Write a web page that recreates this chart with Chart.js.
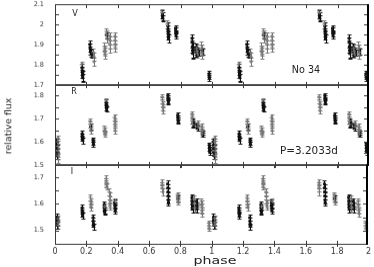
<!DOCTYPE html>
<html><head><meta charset="utf-8">
<script src="https://cdn.jsdelivr.net/npm/chart.js@4.4.0/dist/chart.umd.min.js"></script>
<style>
html,body{margin:0;padding:0;background:#fff;width:374px;height:267px;overflow:hidden;}
#wrap{position:relative;width:374px;height:267px;overflow:hidden;}
canvas{position:absolute;left:0;}
.t{position:absolute;font-family:"DejaVu Sans",sans-serif;color:#222;white-space:nowrap;line-height:1;transform:translate(-50%,-50%);}
</style></head><body>
<div id="wrap">
<canvas id="cV" width="374" height="100"></canvas>
<canvas id="cR" width="374" height="100"></canvas>
<canvas id="cI" width="374" height="120"></canvas>
<div class="t" style="left:75px;top:14px;font-size:8px">V</div>
<div class="t" style="left:74px;top:92px;font-size:8px">R</div>
<div class="t" style="left:72px;top:172px;font-size:8px">I</div>
<div class="t" style="left:306px;top:70px;font-size:9.6px">No 34</div>
<div class="t" style="left:309px;top:150px;font-size:10.4px">P=3.2033d</div>
<div class="t" style="left:215px;top:261px;font-size:10px;transform:translate(-50%,-50%) scaleX(1.42)">phase</div>
<div class="t" style="left:8px;top:126px;font-size:9.5px;transform:translate(-50%,-50%) rotate(-90deg)">relative flux</div>
</div>
<script>
// phase tick labels (x axis), every 0.2 from 0 to 2
const phaseTicks = ["0","0.2","0.4","0.6","0.8","1","1.2","1.4","1.6","1.8","2"];
// Panel ranges [min, max]
const rangeV = [1.7, 2.1];
const rangeR = [1.5, 1.85];
const rangeI = [1.45, 1.75];
// Data: [phase (0-1), relative flux, error]; plotted over two cycles (phase and phase+1)
const V_dark = [
 [0.172,1.785,0.02],[0.174,1.770,0.022],[0.175,1.755,0.02],[0.176,1.745,0.025],[0.177,1.735,0.02],
 [0.222,1.900,0.018],[0.224,1.885,0.02],[0.226,1.870,0.02],[0.229,1.858,0.018],[0.234,1.850,0.015],
 [0.330,1.945,0.015],
 [0.684,2.050,0.02],[0.685,2.040,0.02],[0.686,2.030,0.015],
 [0.719,1.990,0.02],[0.720,1.975,0.02],[0.721,1.960,0.02],[0.722,1.945,0.02],[0.723,1.930,0.02],
 [0.768,1.980,0.015],[0.769,1.968,0.015],[0.770,1.955,0.015],[0.771,1.945,0.015],
 [0.873,1.930,0.02],[0.874,1.910,0.025],[0.875,1.890,0.03],[0.876,1.870,0.04],[0.877,1.855,0.02],
 [0.895,1.885,0.02],[0.897,1.870,0.02],[0.899,1.860,0.02],
 [0.913,1.870,0.015],[0.915,1.858,0.015],
 [0.940,1.865,0.015],
 [0.981,1.755,0.015],[0.982,1.745,0.015],[0.983,1.735,0.015]
];
const V_grey = [
 [0.170,1.800,0.015],
 [0.244,1.860,0.02],[0.246,1.840,0.02],[0.248,1.815,0.02],
 [0.315,1.890,0.02],[0.316,1.875,0.02],[0.317,1.862,0.02],[0.318,1.850,0.02],
 [0.328,1.965,0.015],[0.329,1.950,0.02],[0.331,1.930,0.02],
 [0.349,1.940,0.02],[0.350,1.920,0.02],[0.351,1.900,0.02],[0.352,1.878,0.02],
 [0.381,1.940,0.02],[0.382,1.920,0.02],[0.383,1.900,0.02],[0.384,1.885,0.02],
 [0.682,2.058,0.015],
 [0.716,2.000,0.02],
 [0.903,1.880,0.02],[0.905,1.866,0.02],[0.907,1.855,0.02],
 [0.933,1.895,0.02],[0.935,1.880,0.02],[0.937,1.862,0.02],[0.939,1.850,0.02]
];
const R_dark = [
 [0.008,1.600,0.015],[0.009,1.585,0.015],[0.010,1.570,0.015],[0.011,1.555,0.015],[0.012,1.540,0.015],
 [0.173,1.635,0.012],[0.174,1.625,0.012],[0.175,1.615,0.012],[0.176,1.605,0.012],
 [0.228,1.665,0.012],
 [0.243,1.608,0.01],[0.244,1.598,0.01],[0.245,1.588,0.01],
 [0.326,1.770,0.012],[0.327,1.760,0.012],[0.328,1.750,0.012],[0.329,1.742,0.012],
 [0.719,1.800,0.012],[0.720,1.790,0.012],[0.721,1.780,0.012],[0.722,1.772,0.012],
 [0.782,1.715,0.01],[0.783,1.705,0.01],[0.784,1.695,0.01],[0.785,1.688,0.01],
 [0.880,1.690,0.012],[0.881,1.680,0.012],[0.882,1.672,0.012],
 [0.904,1.675,0.01],[0.906,1.665,0.01],[0.908,1.658,0.01],
 [0.940,1.640,0.01],[0.941,1.630,0.01],
 [0.983,1.585,0.012],[0.984,1.575,0.012],[0.985,1.565,0.012],[0.986,1.555,0.012]
];
const R_grey = [
 [0.017,1.615,0.012],[0.018,1.600,0.012],[0.019,1.580,0.012],[0.020,1.560,0.012],[0.021,1.540,0.012],[0.022,1.522,0.012],
 [0.225,1.690,0.012],[0.226,1.675,0.012],[0.227,1.660,0.012],[0.229,1.648,0.012],
 [0.315,1.660,0.01],[0.316,1.650,0.01],[0.317,1.640,0.01],[0.318,1.632,0.01],
 [0.325,1.780,0.01],
 [0.379,1.705,0.012],[0.380,1.690,0.012],[0.381,1.675,0.012],[0.382,1.660,0.012],[0.383,1.648,0.012],
 [0.683,1.795,0.012],[0.684,1.780,0.012],[0.685,1.765,0.012],[0.686,1.750,0.012],[0.687,1.735,0.012],
 [0.873,1.720,0.012],[0.874,1.705,0.012],[0.875,1.690,0.012],[0.876,1.675,0.012],
 [0.910,1.680,0.01],[0.912,1.665,0.01],
 [0.934,1.665,0.012],[0.935,1.655,0.012],[0.936,1.645,0.012],[0.937,1.635,0.012]
];
const I_dark = [
 [0.011,1.550,0.012],[0.012,1.540,0.012],[0.013,1.530,0.012],[0.014,1.520,0.012],
 [0.173,1.585,0.012],[0.174,1.575,0.012],[0.175,1.565,0.012],[0.176,1.555,0.012],
 [0.243,1.548,0.012],[0.244,1.535,0.012],[0.245,1.525,0.012],[0.246,1.515,0.012],
 [0.314,1.598,0.01],[0.315,1.585,0.01],[0.316,1.575,0.01],[0.317,1.568,0.01],
 [0.381,1.605,0.012],[0.382,1.595,0.012],[0.383,1.585,0.012],[0.384,1.575,0.012],
 [0.719,1.675,0.012],[0.720,1.660,0.012],[0.721,1.645,0.012],[0.722,1.630,0.012],[0.723,1.615,0.012],[0.724,1.605,0.012],
 [0.785,1.620,0.01],
 [0.874,1.625,0.012],[0.875,1.610,0.012],[0.876,1.600,0.012],[0.877,1.590,0.012],[0.878,1.580,0.012],
 [0.904,1.610,0.012],[0.905,1.595,0.012],[0.906,1.580,0.012]
];
const I_grey = [
 [0.019,1.545,0.012],[0.020,1.530,0.012],[0.021,1.520,0.012],
 [0.226,1.625,0.012],[0.227,1.610,0.012],[0.228,1.598,0.012],[0.229,1.588,0.012],
 [0.318,1.590,0.01],
 [0.326,1.695,0.012],[0.327,1.685,0.012],[0.328,1.675,0.012],[0.329,1.665,0.012],
 [0.347,1.645,0.012],[0.348,1.630,0.012],[0.349,1.615,0.012],[0.350,1.600,0.012],[0.351,1.592,0.012],
 [0.386,1.610,0.01],
 [0.683,1.680,0.012],[0.684,1.670,0.012],[0.685,1.660,0.012],[0.686,1.645,0.012],
 [0.782,1.635,0.01],[0.783,1.625,0.01],[0.784,1.615,0.01],[0.785,1.608,0.01],
 [0.889,1.620,0.012],[0.890,1.600,0.012],[0.891,1.585,0.012],
 [0.934,1.610,0.012],[0.935,1.600,0.012],[0.936,1.590,0.012],[0.937,1.575,0.012],[0.938,1.565,0.012],
 [0.981,1.528,0.01],[0.982,1.518,0.01],[0.983,1.508,0.01]
];

// two cycles of the folded light curve
function twoCycles(arr){
  const a = arr.map(d => ({x:d[0], y:d[1], e:d[2]}));
  const b = arr.map(d => ({x:d[0]+1, y:d[1], e:d[2]}));
  return a.concat(b);
}

function drawErrorBars(chart){
  const ctx = chart.ctx, ys = chart.scales.y, a = chart.chartArea;
  ctx.save();
  ctx.beginPath(); ctx.rect(a.left, a.top, a.right-a.left, a.bottom-a.top); ctx.clip();
  chart.data.datasets.forEach((ds, di) => {
    const meta = chart.getDatasetMeta(di);
    ctx.strokeStyle = ds.borderColor; ctx.lineWidth = 1;
    meta.data.forEach((pt, i) => {
      const d = ds.data[i];
      const x = Math.round(pt.x) + 0.5;
      const y1 = Math.round(ys.getPixelForValue(d.y + d.e)) + 0.5;
      const y2 = Math.round(ys.getPixelForValue(d.y - d.e)) + 0.5;
      ctx.beginPath();
      ctx.moveTo(x, y1); ctx.lineTo(x, y2);
      ctx.moveTo(x-2, y1); ctx.lineTo(x+2, y1);
      ctx.moveTo(x-2, y2); ctx.lineTo(x+2, y2);
      ctx.stroke();
    });
  });
  ctx.restore();
}

function drawFrame(chart){
  const c = chart.ctx, a = chart.chartArea, xs = chart.scales.x, ys = chart.scales.y;
  const L = Math.round(a.left), Rr = Math.round(a.right), T = Math.round(a.top), B = Math.round(a.bottom);
  c.save();
  c.fillStyle = '#3a3a3a';
  c.fillRect(L, T, Rr - L, 1);
  c.fillRect(L, B, Rr - L, 1);
  c.fillRect(L, T, 1, B - T + 1);
  for (let k = 1; k < phaseTicks.length - 1; k++) {
    const x = Math.round(xs.getPixelForValue(k * 0.2));
    c.fillRect(x, B - 3, 1, 6);
    c.fillRect(x, T, 1, 4);
  }
  ys.ticks.forEach(t => {
    const y = Math.round(ys.getPixelForValue(t.value));
    if (y <= T + 1 || y >= B - 1) return;
    c.fillRect(L, y, 4, 1);
    c.fillRect(Rr - 5, y, 4, 1);
  });
  c.fillStyle = '#000';
  c.fillRect(Rr - 2, T, 2, B - T + 1);
  c.restore();
}

const panelPlugin = {
  id:'panelDecor',
  beforeDatasetsDraw(chart){ drawErrorBars(chart); },
  afterDraw(chart){ drawFrame(chart); }
};

function fmt(v){ return String(+(+v).toFixed(2)); }

// place a panel so its plot area spans page rows [top, bottom]
function makePanel(id, range, dark, grey, showX, top, bottom){
  const canvas = document.getElementById(id);
  const xAxis = {type:'linear', min:0, max:2, display:showX,
           grid:{display:false, drawTicks:false}, border:{display:false},
           ticks:{stepSize:0.2, autoSkip:false, maxRotation:0, padding:3, color:'#333',
                  font:{family:'DejaVu Sans', size:8},
                  callback:(v,i)=> phaseTicks[i] !== undefined ? phaseTicks[i] : fmt(v)}};
  if (showX) xAxis.afterFit = function(s){ s.height = 24; };
  const chart = new Chart(canvas, {
    type:'scatter',
    data:{datasets:[
      {data:twoCycles(grey), borderColor:'#7a7a7a', backgroundColor:'#7a7a7a', pointStyle:'cross', pointRadius:2, borderWidth:1},
      {data:twoCycles(dark), borderColor:'#111', backgroundColor:'#111', pointStyle:'rect', pointRadius:1.4, borderWidth:1}
    ]},
    options:{
      responsive:false, maintainAspectRatio:false, animation:false, devicePixelRatio:1,
      layout:{autoPadding:false, padding:{left:0, right:5, top:10, bottom: showX ? 0 : 10}},
      plugins:{legend:{display:false}, tooltip:{enabled:false}},
      scales:{
        x: xAxis,
        y:{type:'linear', min:range[0], max:range[1],
           grid:{display:false, drawTicks:false}, border:{display:false},
           afterFit(s){ s.width = 55; },
           ticks:{stepSize:0.05, autoSkip:false, padding:11, color:'#333',
                  font:{family:'DejaVu Sans', size:6.5},
                  callback:(v)=> Math.abs(v*10 - Math.round(v*10)) < 1e-6 ? fmt(v) : ''}}
      }
    },
    plugins:[panelPlugin]
  });
  const extra = chart.height - (chart.chartArea.bottom - chart.chartArea.top);
  chart.resize(374, (bottom - top) + extra);
  canvas.style.top = (top - chart.chartArea.top) + 'px';
  return chart;
}

makePanel('cV', rangeV, V_dark, V_grey, false, 4, 84);
makePanel('cR', rangeR, R_dark, R_grey, false, 84, 164);
makePanel('cI', rangeI, I_dark, I_grey, true, 164, 243);
</script>
</body></html>
